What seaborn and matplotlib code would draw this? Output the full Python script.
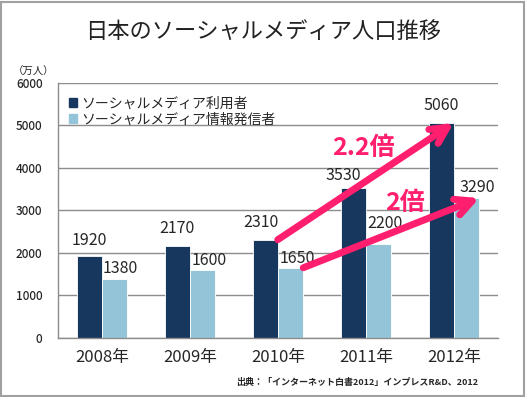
import pandas as pd
import matplotlib.pyplot as plt
import seaborn as sns
from matplotlib.patches import Rectangle, Patch

# data
years = ['2008年', '2009年', '2010年', '2011年', '2012年']
users = [1920, 2170, 2310, 3530, 5060]
senders = [1380, 1600, 1650, 2200, 3290]
series_names = ['ソーシャルメディア利用者', 'ソーシャルメディア情報発信者']

# label nudges (pixels, as placed by hand in the original)
users_off = [(0, 16), (0, 17), (-4, 17), (-10, 12), (0, 17)]
senders_off = [(6, 11), (6, 9), (7, 9), (6, 21), (10, 11)]

df = pd.DataFrame({
    'year': years * 2,
    'value': users + senders,
    'series': [series_names[0]] * 5 + [series_names[1]] * 5,
})

dark = '#17375E'
light = '#93C4D7'
pink = '#FF1F6E'
grid_c = '#8C8C8C'

sns.set_theme(style='white')
plt.rcParams['font.family'] = ['Noto Sans CJK JP', 'DejaVu Sans']

fig = plt.figure(figsize=(5.26, 3.97), dpi=100)
ax = fig.add_axes([0.110, 0.149, 0.837, 0.642])

sns.barplot(data=df, x='year', y='value', hue='series', palette=[dark, light],
            width=0.58, gap=0.02, ax=ax, legend=False, saturation=1,
            edgecolor='white', linewidth=0.6)

ax.set_ylim(0, 6000)
ax.set_xlim(-0.5, 4.5)
ax.set_yticks(range(0, 6001, 1000))
ax.yaxis.grid(True, color=grid_c, lw=1)
ax.set_axisbelow(True)
for s in ['top', 'right']:
    ax.spines[s].set_visible(False)
for s in ['left', 'bottom']:
    ax.spines[s].set_color(grid_c)
    ax.spines[s].set_linewidth(1)
ax.tick_params(axis='y', labelsize=8.5, length=0, pad=11)
ax.tick_params(axis='x', labelsize=12, length=0, pad=8)
for t in ax.get_yticklabels():
    t.set_fontweight('medium')
ax.set_xlabel('')
ax.set_ylabel('')

# value labels
px = 72 / 100
for bar, v, (dx, dy) in zip(ax.containers[0], users, users_off):
    ax.annotate(str(v), (bar.get_x() + bar.get_width() / 2, v),
                xytext=(dx * px, dy * px), textcoords='offset points',
                ha='center', va='center', fontsize=11.5)
for bar, v, (dx, dy) in zip(ax.containers[1], senders, senders_off):
    ax.annotate(str(v), (bar.get_x() + bar.get_width() / 2, v),
                xytext=(dx * px, dy * px), textcoords='offset points',
                ha='center', va='center', fontsize=11.5)

# growth arrows
b0, b1 = ax.containers[0][2], ax.containers[0][4]
ax.annotate('', xy=(b1.get_x() + b1.get_width(), b1.get_height()),
            xytext=(b0.get_x() + b0.get_width(), b0.get_height()),
            arrowprops=dict(arrowstyle='->', lw=5, color=pink,
                            mutation_scale=30, shrinkA=0, shrinkB=0))
l0, l1 = ax.containers[1][2], ax.containers[1][4]
ax.annotate('', xy=(l1.get_x() + l1.get_width(), l1.get_height()),
            xytext=(l0.get_x() + l0.get_width(), l0.get_height()),
            arrowprops=dict(arrowstyle='->', lw=5, color=pink,
                            mutation_scale=30, shrinkA=0, shrinkB=0))
ax.text(2.97, 4470, '2.2倍', color=pink, fontsize=18, fontweight='bold',
        ha='center', va='center')
ax.text(3.44, 3180, '2倍', color=pink, fontsize=18, fontweight='bold',
        ha='center', va='center')

# legend
handles = [Patch(color=dark), Patch(color=light)]
ax.legend(handles, series_names, loc='upper left', bbox_to_anchor=(0.0, 0.99),
          frameon=False, fontsize=10, handlelength=0.6, handleheight=0.6,
          handletextpad=0.3, labelspacing=0.15, borderaxespad=0.4)

# texts
fig.text(0.5, 0.92, '日本のソーシャルメディア人口推移', ha='center', va='center',
         fontsize=16, color='#222222')
fig.text(0.063, 0.818, '（万人）', ha='center', va='center', fontsize=7.5)
fig.text(0.909, 0.038, '出典：「インターネット白書2012」インプレスR&D、2012',
         ha='right', va='center', fontsize=6.5, fontweight='bold')

fig.patches.append(Rectangle((0.002, 0.003), 0.995, 0.993, transform=fig.transFigure,
                             fill=False, edgecolor='#A0A0A0', lw=1.5))

fig.savefig('out.png', dpi=100)
